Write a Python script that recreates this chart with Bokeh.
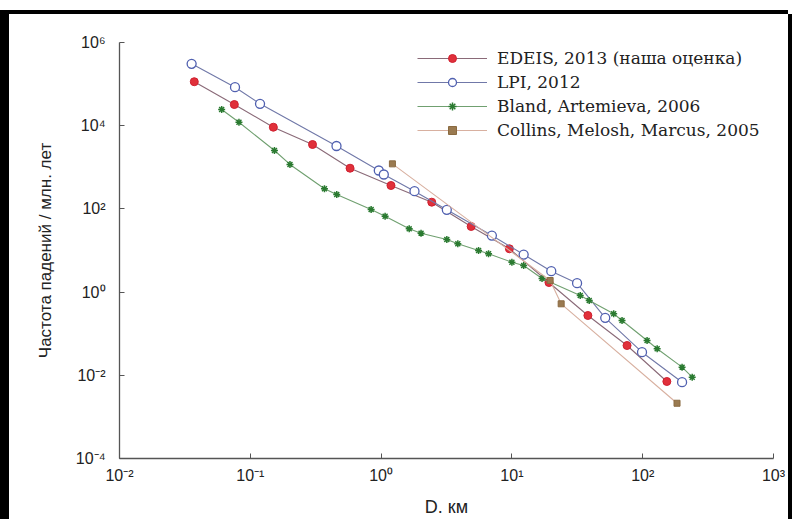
from bokeh.plotting import figure
from bokeh.models import (Range1d, FixedTicker, CustomJSTickFormatter, Legend, LegendItem)
from bokeh.embed import file_html
from bokeh.resources import INLINE

# ---- data ----
edeis_d = [0.0373, 0.0755, 0.150, 0.299, 0.579, 1.19, 2.44, 4.88, 9.57, 19.2, 38.1, 75.9, 153]
edeis_f = [1.14e5, 3.23e4, 9.2e3, 3.53e3, 951, 365, 145, 37.8, 11.0, 1.70, 0.274, 0.052, 0.0071]

lpi_d = [0.0356, 0.0764, 0.1187, 0.456, 0.960, 1.049, 1.80, 3.18, 7.03, 12.3, 20.0, 31.5, 51.7, 98.8, 200]
lpi_f = [3.08e5, 8.43e4, 3.36e4, 3.25e3, 838, 671, 266, 95.1, 22.9, 8.0, 3.18, 1.64, 0.241, 0.0359, 0.00683]

bland_d = [0.0604, 0.0819, 0.153, 0.201, 0.369, 0.458, 0.839, 1.073, 1.64, 2.02, 3.18, 3.86, 5.56,
           6.63, 10.0, 12.3, 17.0, 33.3, 39.0, 60.0, 69.5, 108, 129, 200, 239]
bland_f = [2.45e4, 1.21e4, 2.53e3, 1.17e3, 304, 222, 96.8, 66.8, 33.2, 26.1, 18.4, 14.5, 10.0,
           8.33, 5.23, 4.36, 2.12, 0.829, 0.628, 0.301, 0.208, 0.0687, 0.0434, 0.0157, 0.0090]

collins_d = [1.22, 19.6, 23.8, 183]
collins_f = [1.21e3, 1.90, 0.523, 0.00213]

series_names = ["EDEIS, 2013 (наша оценка)", "LPI, 2012", "Bland, Artemieva, 2006",
                "Collins, Melosh, Marcus, 2005"]

x_ticks = [0.01, 0.1, 1, 10, 100, 1000]
x_tick_labels = ["10⁻²", "10⁻¹", "10⁰", "10¹", "10²", "10³"]
y_ticks = [1e-4, 1e-2, 1, 1e2, 1e4, 1e6]
y_tick_labels = ["10⁻⁴", "10⁻²", "10⁰", "10²", "10⁴", "10⁶"]

x_title = "D. км"
y_title = "Частота падений / млн. лет"

# ---- figure ----
p = figure(width=779, height=505, x_axis_type="log", y_axis_type="log",
           x_range=Range1d(0.01, 1000), y_range=Range1d(1e-4, 1e6),
           output_backend="svg", toolbar_location=None,
           min_border_left=110, min_border_right=15, min_border_top=28, min_border_bottom=61)
p.margin = (14, 9, 0, 9)
p.styles = {"box-shadow": "-9px 0 0 0 black, 4px 0 0 0 black, 0 -4px 0 0 black, -9px -4px 0 0 black"}
p.background_fill_color = "white"
p.border_fill_color = "white"
p.outline_line_color = None
p.grid.visible = False

fmt_code = """
const lt = Math.log10(tick);
let best = 0, bd = Infinity;
for (let i = 0; i < tvals.length; i++) {
  const d = Math.abs(Math.log10(tvals[i]) - lt);
  if (d < bd) { bd = d; best = i; }
}
return tlabels[best];
"""

for ax, tv, tl, standoff in ((p.xaxis[0], x_ticks, x_tick_labels, 8),
                             (p.yaxis[0], y_ticks, y_tick_labels, 14)):
    ax.ticker = FixedTicker(ticks=tv, minor_ticks=[])
    ax.formatter = CustomJSTickFormatter(args=dict(tvals=tv, tlabels=tl), code=fmt_code)
    ax.major_tick_in = 5
    ax.major_tick_out = 0
    ax.minor_tick_in = 0
    ax.minor_tick_out = 0
    ax.axis_line_color = "#555555"
    ax.axis_line_width = 1.3
    ax.major_tick_line_color = "#555555"
    ax.major_label_text_font = "Liberation Sans"
    ax.major_label_text_font_size = "16px"
    ax.major_label_text_color = "#222222"
    ax.major_label_standoff = standoff
    ax.axis_label_text_font = "Liberation Sans"
    ax.axis_label_text_font_style = "normal"
    ax.axis_label_text_color = "#222222"

p.xaxis.axis_label = x_title
p.xaxis.axis_label_text_font_size = "18px"
p.xaxis.axis_label_standoff = 10

p.yaxis.axis_label = y_title
p.yaxis.axis_label_text_font_size = "17px"
p.yaxis.axis_label_standoff = 18

# ---- series ----
l1 = p.line(edeis_d, edeis_f, line_color="#8a6a78", line_width=1.1)
s1 = p.scatter(edeis_d, edeis_f, marker="circle", size=8, fill_color="#e0303a",
               line_color="#d02030")
l2 = p.line(lpi_d, lpi_f, line_color="#7078a8", line_width=1.1)
s2 = p.scatter(lpi_d, lpi_f, marker="circle", size=9, fill_color="white",
               line_color="#5060b0", line_width=1.3)
l3 = p.line(bland_d, bland_f, line_color="#70a070", line_width=1.1)
s3 = p.scatter(bland_d, bland_f, marker="asterisk", size=7, line_color="#2a7a30",
               line_width=1.5)
l4 = p.line(collins_d, collins_f, line_color="#d8b0a0", line_width=1.1)
s4 = p.scatter(collins_d, collins_f, marker="square", size=6, fill_color="#9a7a50",
               line_color="#8a6a40")

legend = Legend(items=[LegendItem(label=series_names[0], renderers=[l1, s1]),
                       LegendItem(label=series_names[1], renderers=[l2, s2]),
                       LegendItem(label=series_names[2], renderers=[l3, s3]),
                       LegendItem(label=series_names[3], renderers=[l4, s4])],
                location=(298, 318), padding=0, margin=0, spacing=4,
                glyph_width=70, glyph_height=20, label_height=20, label_standoff=10,
                label_text_font="DejaVu Serif", label_text_font_size="17px",
                label_text_color="#222222", border_line_color=None,
                background_fill_alpha=0)
p.add_layout(legend, "center")

open("out.html", "w").write(file_html(p, INLINE))
